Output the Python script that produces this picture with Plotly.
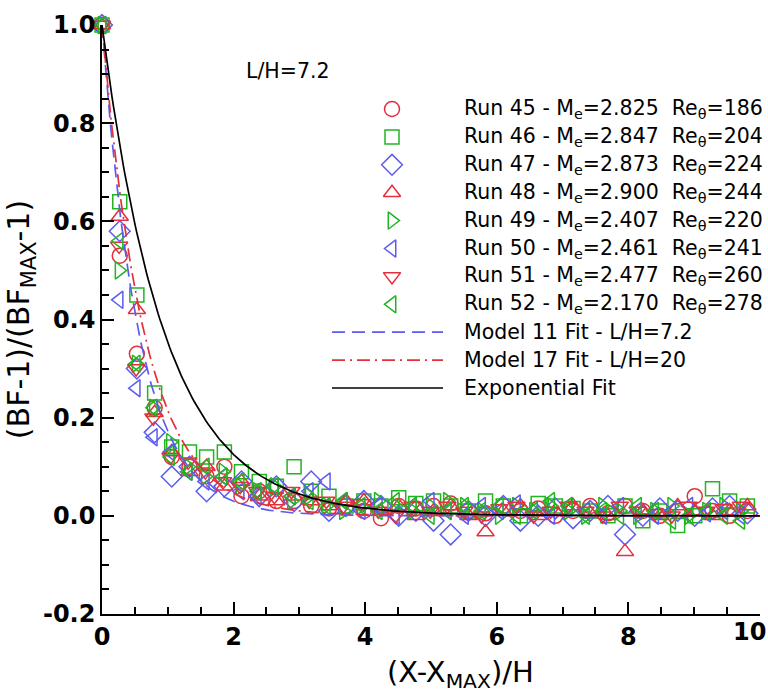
import numpy as np
import plotly.graph_objects as go

# ---------------- data ----------------
X_TAPS_A = [0.00, 0.27, 0.53, 0.80, 1.06, 1.33, 1.59, 1.86, 2.12, 2.39, 2.65, 2.92, 3.18,
            3.45, 3.71, 3.98, 4.24, 4.51, 4.77, 5.04, 5.30, 5.57, 5.83, 6.10, 6.36, 6.63,
            6.89, 7.16, 7.42, 7.69, 7.95, 8.22, 8.48, 8.75, 9.01, 9.28, 9.54, 9.81]
X_TAPS_B = [0.00, 0.26, 0.52, 0.78, 1.04, 1.31, 1.57, 1.84, 2.10, 2.36, 2.62, 2.88, 3.15,
            3.41, 3.67, 3.94, 4.20, 4.46, 4.72, 4.99, 5.25, 5.51, 5.77, 6.04, 6.30, 6.56,
            6.82, 7.09, 7.35, 7.61, 7.87, 8.14, 8.40, 8.66, 8.92, 9.19, 9.45, 9.71]

RUN_NAMES = ["Run 45", "Run 46", "Run 47", "Run 48", "Run 49", "Run 50", "Run 51", "Run 52"]
RUN_MACH = ["2.825", "2.847", "2.873", "2.900", "2.407", "2.461", "2.477", "2.170"]
RUN_RE = ["186", "204", "224", "244", "220", "241", "260", "278"]

RUN45_Y = [1.00, 0.53, 0.33, 0.22, 0.12, 0.10, 0.08, 0.10, 0.04, 0.05, 0.03, 0.03, 0.02,
           0.015, 0.02, 0.01, -0.005, 0.02, 0.015, 0.02, 0.025, 0.01, 0.005, 0.02, 0.01, 0.015,
           0.00, 0.01, 0.02, 0.005, 0.02, 0.01, 0.00, 0.01, 0.04, 0.01, 0.00, 0.01]
RUN46_Y = [1.00, 0.64, 0.45, 0.25, 0.14, 0.13, 0.12, 0.13, 0.09, 0.07, 0.06, 0.10, 0.05,
           0.04, 0.02, 0.03, 0.02, 0.037, 0.025, 0.03, 0.02, 0.01, 0.03, 0.02, 0.00, 0.025,
           0.02, 0.015, 0.01, 0.00, 0.02, -0.01, 0.01, -0.02, 0.00, 0.055, 0.03, 0.02]
RUN47_Y = [1.00, 0.58, 0.30, 0.17, 0.08, 0.10, 0.05, 0.06, 0.07, 0.04, 0.06, 0.03, 0.07,
           0.01, 0.02, 0.03, 0.02, 0.00, 0.01, -0.01, -0.038, 0.01, 0.00, 0.02, -0.01, 0.00,
           0.015, -0.005, 0.01, 0.02, -0.038, 0.00, 0.015, 0.01, 0.00, 0.015, 0.02, 0.005]
RUN48_Y = [1.00, 0.61, 0.42, 0.21, 0.13, 0.09, 0.10, 0.06, 0.07, 0.04, 0.03, 0.04, 0.03,
           0.02, 0.03, 0.03, 0.01, 0.02, 0.00, 0.01, 0.02, 0.00, -0.033, 0.01, 0.02, 0.00,
           0.01, 0.02, 0.005, 0.00, -0.073, 0.01, 0.00, 0.02, 0.01, 0.00, 0.01, 0.02]
RUN49_Y = [1.00, 0.50, 0.31, 0.22, 0.15, 0.10, 0.08, 0.09, 0.06, 0.05, 0.06, 0.03, 0.04,
           0.02, 0.01, 0.02, 0.03, 0.02, 0.01, 0.02, 0.03, 0.02, 0.01, 0.00, 0.02, 0.01,
           0.02, 0.01, 0.00, 0.02, 0.01, 0.00, 0.01, 0.02, 0.00, 0.01, 0.02, 0.01]
RUN50_Y = [1.00, 0.44, 0.26, 0.16, 0.13, 0.09, 0.07, 0.08, 0.05, 0.04, 0.06, 0.04, 0.05,
           0.07, 0.03, 0.01, 0.02, 0.00, 0.02, 0.03, 0.01, 0.00, 0.02, 0.01, 0.025, 0.01,
           0.00, 0.02, 0.01, 0.00, 0.02, 0.01, 0.00, 0.01, 0.02, 0.005, 0.01, 0.00]
RUN51_Y = [1.00, 0.55, 0.30, 0.20, 0.12, 0.11, 0.09, 0.07, 0.06, 0.05, 0.04, 0.05, 0.03,
           0.03, 0.02, 0.025, 0.01, 0.00, 0.02, 0.01, 0.02, 0.01, 0.00, 0.015, 0.02, 0.00,
           0.01, 0.02, 0.01, 0.00, 0.02, 0.01, 0.005, 0.00, 0.02, 0.01, 0.015, 0.02]
RUN52_Y = [1.00, 0.56, 0.31, 0.22, 0.12, 0.09, 0.10, 0.08, 0.07, 0.05, 0.06, 0.04, 0.03,
           0.02, 0.03, 0.02, 0.01, 0.03, 0.02, 0.00, 0.01, 0.02, 0.01, 0.02, 0.00, 0.01,
           0.03, 0.02, 0.00, 0.01, 0.00, 0.02, 0.01, -0.01, 0.00, 0.01, 0.00, -0.01]

FIT_NAMES = ["Model 11 Fit - L/H=7.2", "Model 17 Fit - L/H=20", "Exponential Fit"]
FIT_DECAY = [1.76, 1.54, 1.04]   # decay rates of the fitted curves

X_TICKS = [0, 2, 4, 6, 8, 10]
X_TICK_LABELS = ["0", "2", "4", "6", "8", "10"]
Y_TICKS = [-0.2, 0.0, 0.2, 0.4, 0.6, 0.8, 1.0]

# ---------------- styling ----------------
RED = "#e3303c"
GREEN = "#22b522"
BLUE = "#5b5cf0"
RUN_Y = [RUN45_Y, RUN46_Y, RUN47_Y, RUN48_Y, RUN49_Y, RUN50_Y, RUN51_Y, RUN52_Y]
RUN_X = [X_TAPS_A] * 4 + [X_TAPS_B] * 4
RUN_COLORS = [RED, GREEN, BLUE, RED, GREEN, BLUE, RED, GREEN]
RUN_SYMBOLS = ["circle-open", "square-open", "diamond-open", "triangle-up-open",
               "triangle-right-open", "triangle-left-open", "triangle-down-open",
               "triangle-left-open"]
RUN_SIZES = [15, 14, 16, 15, 15, 15, 15, 15]
FIT_COLORS = [BLUE, RED, "black"]
FIT_DASHES = ["13px,7px", "13px,5px,2px,5px", "solid"]
FONT = "DejaVu Sans"
TICK_FONT = dict(family=FONT, size=24, color="black", weight="bold")

PLOT_LEFT, PLOT_RIGHT = 102, 760  # pixel columns of the plot area
PLOT_TOP, PLOT_BOTTOM = 25, 614   # pixel rows of the plot area

fig = go.Figure()

for name, xs, ys, col, sym, sz in zip(RUN_NAMES, RUN_X, RUN_Y, RUN_COLORS, RUN_SYMBOLS, RUN_SIZES):
    fig.add_trace(go.Scatter(
        x=xs, y=ys, mode="markers", name=name, showlegend=False, cliponaxis=False,
        marker=dict(symbol=sym, size=sz, color=col, line=dict(color=col, width=1.5))))

xfit = np.linspace(0, 10, 400)
for name, k, col, dash in zip(FIT_NAMES, FIT_DECAY, FIT_COLORS, FIT_DASHES):
    fig.add_trace(go.Scatter(
        x=xfit, y=np.exp(-k * xfit), mode="lines", name=name, showlegend=False,
        cliponaxis=False, line=dict(color=col, width=1.7, dash=dash)))

# ---------------- hand-built legend on a pixel-scaled overlay axis ----------------
LEG_Y0 = 109
LEG_DY = 27.9
LEG_SYM_X = 392
LEG_TXT_X = 462
LEG_FONT = dict(family=FONT, size=20.5, color="black")
for i, (name, m, re_, col, sym, sz) in enumerate(zip(RUN_NAMES, RUN_MACH, RUN_RE,
                                                   RUN_COLORS, RUN_SYMBOLS, RUN_SIZES)):
    yy = LEG_Y0 + i * LEG_DY
    fig.add_trace(go.Scatter(
        x=[LEG_SYM_X], y=[yy], xaxis="x2", yaxis="y2", mode="markers", showlegend=False,
        hoverinfo="skip", cliponaxis=False,
        marker=dict(symbol=sym, size=sz, color=col, line=dict(color=col, width=1.5))))
    fig.add_annotation(
        x=LEG_TXT_X, y=yy, xref="x2", yref="y2", xanchor="left", yanchor="middle",
        showarrow=False, font=LEG_FONT,
        text=f"{name} - M<sub>e</sub>={m}\u00a0\u00a0Re<sub>θ</sub>={re_}")
for j, (name, col, dash) in enumerate(zip(FIT_NAMES, FIT_COLORS, FIT_DASHES)):
    yy = LEG_Y0 + (len(RUN_NAMES) + j) * LEG_DY
    fig.add_trace(go.Scatter(
        x=[332, 443], y=[yy, yy], xaxis="x2", yaxis="y2", mode="lines", showlegend=False,
        hoverinfo="skip", cliponaxis=False, line=dict(color=col, width=1.7, dash=dash)))
    fig.add_annotation(
        x=LEG_TXT_X, y=yy, xref="x2", yref="y2", xanchor="left", yanchor="middle",
        showarrow=False, font=LEG_FONT, text=name)

fig.add_annotation(x=244, y=71, xref="x2", yref="y2", xanchor="left", yanchor="middle",
                   showarrow=False, font=LEG_FONT, text="L/H=7.2")

PW = PLOT_RIGHT - PLOT_LEFT
PH = PLOT_BOTTOM - PLOT_TOP

# x-axis title (placed slightly right of centre, as in the reference)
fig.add_annotation(x=(460 - PLOT_LEFT) / PW, y=(PLOT_BOTTOM - 674) / PH,
                   xref="paper", yref="paper", xanchor="center", yanchor="middle",
                   showarrow=False, font=dict(family=FONT, size=29, color="black"),
                   text="(X-X<sub>MAX</sub>)/H")

# the last x tick label sits pulled in against the right edge, as in the reference
fig.add_annotation(x=(768 - PLOT_LEFT) / PW, y=(PLOT_BOTTOM - 616) / PH,
                   xref="paper", yref="paper", xanchor="right", yanchor="top",
                   showarrow=False, font=TICK_FONT, text=X_TICK_LABELS[-1])

axis_common = dict(showline=True, linecolor="black", linewidth=1.5, mirror=False,
                   showgrid=False, zeroline=False, ticks="inside", ticklen=12,
                   tickwidth=1.5, tickcolor="black", automargin=False,
                   tickfont=TICK_FONT)

fig.update_layout(
    width=768, height=692,
    margin=dict(l=PLOT_LEFT, r=768 - PLOT_RIGHT, t=PLOT_TOP, b=692 - PLOT_BOTTOM,
                autoexpand=False),
    paper_bgcolor="white", plot_bgcolor="white",
    font=dict(family=FONT, color="black"),
    showlegend=False,
    xaxis=dict(range=[0, 10.002], tickvals=X_TICKS,
               ticktext=X_TICK_LABELS[:-1] + [""],
               minor=dict(ticks="inside", ticklen=7, tickwidth=1.5, tickcolor="black",
                          dtick=0.5, tick0=0, showgrid=False),
               **axis_common),
    yaxis=dict(range=[-0.2001, 1.0001], tickvals=Y_TICKS, ticktext=[f"{v:.1f}" for v in Y_TICKS],
               minor=dict(ticks="inside", ticklen=7, tickwidth=1.5, tickcolor="black",
                          dtick=0.05, tick0=0, showgrid=False),
               title=dict(text="(BF-1)/(BF<sub>MAX</sub>-1)", font=dict(family=FONT, size=30),
                          standoff=4),
               **axis_common),
    xaxis2=dict(overlaying="x", range=[PLOT_LEFT, PLOT_RIGHT], visible=False, fixedrange=True),
    yaxis2=dict(overlaying="y", range=[PLOT_BOTTOM, PLOT_TOP], visible=False, fixedrange=True),
)

fig.write_html("out.html")
